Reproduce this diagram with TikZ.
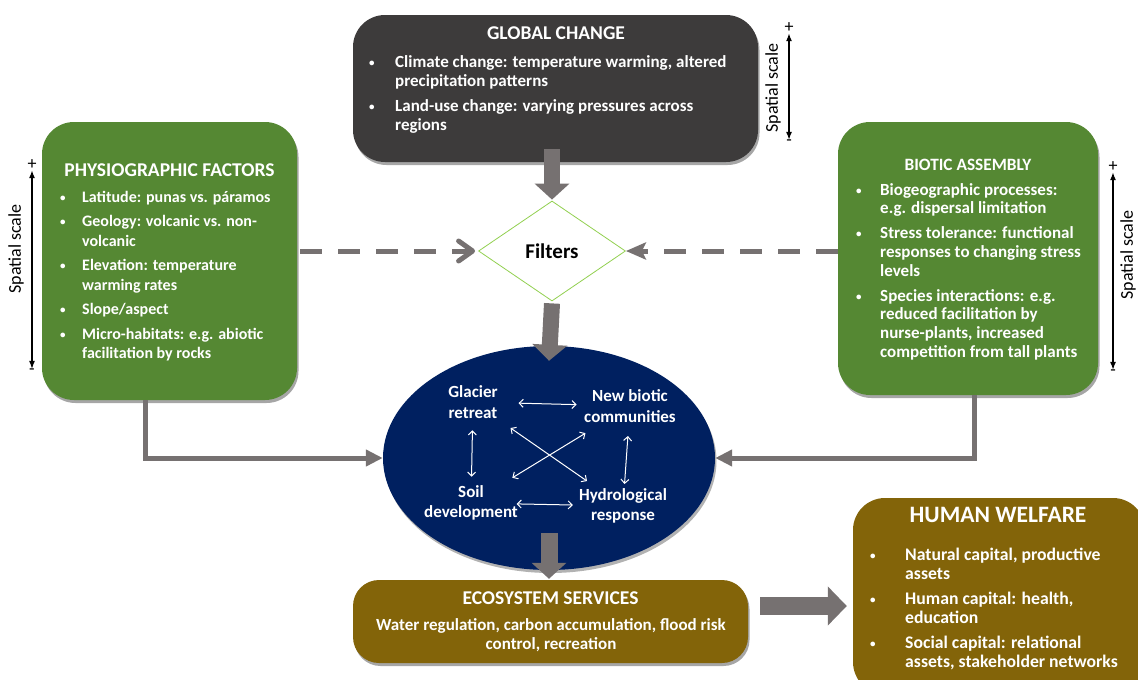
\documentclass[tikz,border=0pt]{standalone}
\usepackage{fontspec}
\setmainfont{Carlito}
\usetikzlibrary{shapes.geometric,arrows.meta,shadows,calc}
\definecolor{gcgray}{HTML}{3D3B3B}
\definecolor{leaf}{HTML}{558833}
\definecolor{ochre}{HTML}{836409}
\definecolor{navy}{HTML}{002060}
\definecolor{arrowgray}{HTML}{767171}
\definecolor{filterline}{HTML}{92D050}
\newcommand{\bodyfont}[2]{\bfseries\fontsize{#1}{#2}\selectfont}
\newcommand{\dotmark}{{\fontsize{11}{11}\selectfont\raisebox{1pt}{•}}}
\begin{document}
\begin{tikzpicture}[x=1pt,y=-1pt,
  panel/.style={rounded corners=32pt, inner sep=0pt,
    drop shadow={shadow xshift=1.5pt,shadow yshift=-3pt,opacity=0.35,fill=black}},
  heading/.style={text=white, inner sep=0pt, anchor=base},
  bullets/.style={text=white, inner sep=0pt, anchor=base west},
  innerlabel/.style={text=white, align=center, inner sep=0pt,
    font=\bodyfont{17}{20.5}},
  blockarrow/.style={draw=arrowgray, line width=16pt,
    -{Triangle[length=16pt,width=34pt]}},
  elbow/.style={draw=arrowgray, line width=5pt,
    -{Triangle[length=17pt,width=16pt]}},
  dashlink/.style={draw=arrowgray, line width=5pt,
    dash pattern=on 22pt off 16pt},
  scalearrow/.style={draw=black, line width=1.4pt,
    {Latex[length=8pt,width=6pt]}-{Latex[length=8pt,width=6pt]}},
  scalesign/.style={inner sep=0pt, font=\fontsize{18}{20}\selectfont},
  scaletext/.style={inner sep=0pt, rotate=90, font=\fontsize{18}{20}\selectfont},
  twoway/.style={draw=white, line width=1pt,
    {Straight Barb[length=4pt,width=8pt]}-{Straight Barb[length=4pt,width=8pt]}}
]
\clip (0,0) rectangle (1138,680);

% ---------- panels ----------
\node[panel, fill=gcgray, minimum width=405pt, minimum height=147pt] (gc) at (555.5,88.5) {};
\node[panel, fill=leaf, minimum width=255pt, minimum height=278pt] (ph) at (169.5,261) {};
\node[panel, fill=leaf, minimum width=260pt, minimum height=273pt] (bi) at (968,258.5) {};
\node[panel, fill=ochre, rounded corners=26pt, minimum width=395pt, minimum height=83pt] (es) at (550.5,621.5) {};
\node[panel, fill=ochre, minimum width=292pt, minimum height=196pt] (hw) at (999,596) {};
\node[ellipse, fill=navy, inner sep=0pt, minimum width=332pt, minimum height=224pt,
  drop shadow={shadow xshift=1.5pt,shadow yshift=-3pt,opacity=0.3,fill=black}] (ell) at (549,458) {};
\node[diamond, draw=filterline, line width=0.8pt, fill=white, inner sep=0pt,
  minimum width=147pt, minimum height=100pt,
  font=\bodyfont{21}{24}] (filt) at (552,251) {Filters};

% ---------- global change ----------
\node[heading, font=\bodyfont{19.5}{22}] (gct) at (556,39.3) {GLOBAL CHANGE};
\node[bullets, font=\bodyfont{17}{19}] (gcl) at (369,67) {%
  \begin{tabular}[t]{@{}p{26pt}@{}l@{}}
  \dotmark & Climate change: temperature warming, altered\\
    & precipitation patterns\\[6pt]
  \dotmark & Land-use change: varying pressures across\\
    & regions
  \end{tabular}};

% ---------- physiographic factors ----------
\node[heading, font=\bodyfont{19.5}{22}] (pht) at (169.5,176.5) {PHYSIOGRAPHIC FACTORS};
\node[bullets, font=\bodyfont{16}{19.5}] (phl) at (60,202) {%
  \begin{tabular}[t]{@{}p{22pt}@{}l@{}}
  \dotmark & Latitude: punas vs. páramos\\[5pt]
  \dotmark & Geology: volcanic vs. non-\\
    & volcanic\\[5pt]
  \dotmark & Elevation: temperature\\
    & warming rates\\[5pt]
  \dotmark & Slope/aspect\\[5pt]
  \dotmark & Micro-habitats: e.g. abiotic\\
    & facilitation by rocks
  \end{tabular}};

% ---------- biotic assembly ----------
\node[heading, font=\bodyfont{17.3}{20}] (bit) at (968,170.6) {BIOTIC ASSEMBLY};
\node[bullets, font=\bodyfont{17}{18.8}] (bil) at (856,195) {%
  \begin{tabular}[t]{@{}p{24pt}@{}l@{}}
  \dotmark & Biogeographic processes:\\
    & e.g. dispersal limitation\\[6pt]
  \dotmark & Stress tolerance: functional\\
    & responses to changing stress\\
    & levels\\[6pt]
  \dotmark & Species interactions: e.g.\\
    & reduced facilitation by\\
    & nurse-plants, increased\\
    & competition from tall plants
  \end{tabular}};

% ---------- ecosystem services ----------
\node[heading, font=\bodyfont{19.5}{22}] (est) at (550.5,604.3) {ECOSYSTEM SERVICES};
\node[text=white, inner sep=0pt, align=center, font=\bodyfont{17}{18.5}] (esl) at (551,635)
  {Water regulation, carbon accumulation, flood risk\\control, recreation};

% ---------- human welfare ----------
\node[heading, font=\bodyfont{23.5}{26}] (hwt) at (998,522.6) {HUMAN WELFARE};
\node[bullets, font=\bodyfont{17.7}{19}] (hwl) at (870,560) {%
  \begin{tabular}[t]{@{}p{35pt}@{}l@{}}
  \dotmark & Natural capital, productive\\
    & assets\\[6pt]
  \dotmark & Human capital: health,\\
    & education\\[6pt]
  \dotmark & Social capital: relational\\
    & assets, stakeholder networks
  \end{tabular}};

% ---------- processes inside the ellipse ----------
\node[innerlabel] (gr) at (473,402) {Glacier\\retreat};
\node[innerlabel] (nb) at (630,406) {New biotic\\communities};
\node[innerlabel] (sd) at (471,503) {Soil\\development};
\node[innerlabel] (hr) at (623,506) {Hydrological\\response};
\draw[twoway] ($(gr)!0.29!(nb)$) -- ($(gr)!0.66!(nb)$);
\draw[twoway] ($(sd)!0.30!(hr)$) -- ($(sd)!0.67!(hr)$);
\draw[twoway] ($(gr)!0.28!(sd)$) -- ($(gr)!0.74!(sd)$);
\draw[twoway] ($(nb)!0.30!(hr)$) -- ($(nb)!0.78!(hr)$);
\draw[twoway] ($(gr)!0.25!(hr)$) -- ($(gr)!0.76!(hr)$);
\draw[twoway] ($(nb)!0.28!(sd)$) -- ($(nb)!0.74!(sd)$);

% ---------- spatial scale indicators ----------
\node[scalesign] (lp) at (32,165) {+};
\node[scalesign] (lm) at (32,372) {-};
\draw[scalearrow] (lp.south) -- (lm.north);
\node[scaletext] (ls) at (16,249) {Spatial scale};

\node[scalesign] (rp) at (1113,167) {+};
\node[scalesign] (rm) at (1113,373) {-};
\draw[scalearrow] (rp.south) -- (rm.north);
\node[scaletext] (rs) at (1128,255) {Spatial scale};

\node[scalesign] (tp) at (789,28) {+};
\node[scalesign] (tm) at (789,143) {-};
\draw[scalearrow] (tp.south) -- (tm.north);
\node[scaletext] (ts) at (773,88) {Spatial scale};

% ---------- connectors ----------
\draw[blockarrow] ([yshift=13pt]gc.south -| filt.north) -- ([yshift=1pt]filt.north);
\draw[blockarrow] ([yshift=-2pt]filt.south) -- ([yshift=-15pt]ell.north);
\draw[blockarrow, line width=17pt] ([yshift=37pt]ell.south) -- ([yshift=1pt]es.north -| ell.south);
\coordinate (esout) at ([xshift=12pt,yshift=15.5pt]es.east);
\draw[blockarrow, line width=18pt, -{Triangle[length=19pt,width=38pt]}]
  (esout) -- ([xshift=-6pt]esout -| hw.west);

\draw[dashlink, shorten <=3pt,
  -{Straight Barb[length=14pt,width=20pt,line cap=round,line join=round]}]
  (filt.west -| ph.east) -- ([xshift=-3pt]filt.west);
\draw[dashlink, -{Stealth[length=20pt,width=17pt,inset=4pt]}]
  (filt.east -| bi.west) -- (filt.east);

\draw[elbow] ([xshift=-24.5pt]ph.south) |- (ell.west);
\draw[elbow] ([xshift=6pt]bi.south) |- (ell.east);
\end{tikzpicture}
\end{document}
